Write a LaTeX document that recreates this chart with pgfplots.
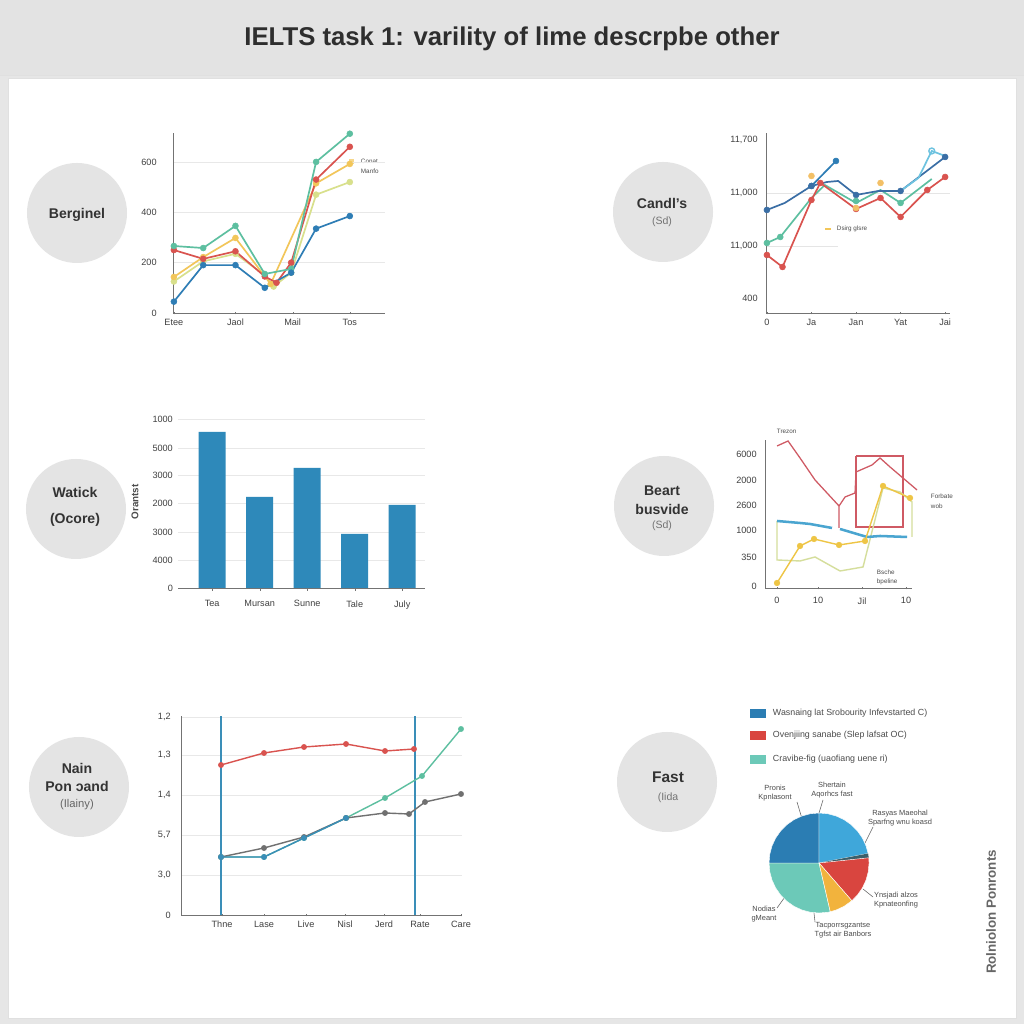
\documentclass[border=0pt]{standalone}
\usepackage{fontspec}
\setmainfont{Liberation Sans}
\usepackage{pgfplots}
\pgfplotsset{compat=1.18}
\usepgfplotslibrary{polar}
\definecolor{bgout}{HTML}{E6E6E6}
\definecolor{banner}{HTML}{E3E3E3}
\definecolor{circ}{HTML}{E4E4E4}
\definecolor{titlec}{HTML}{2E2E2E}
\definecolor{cblue}{HTML}{2E7DB5}
\definecolor{cteal}{HTML}{5DBFA0}
\definecolor{cred}{HTML}{D9534F}
\definecolor{cyel}{HTML}{F2C65A}
\definecolor{clgreen}{HTML}{D8E08C}
\definecolor{cnavy}{HTML}{3A6EA5}
\definecolor{clblue}{HTML}{6EC3E0}
\definecolor{corange}{HTML}{F0B040}
\definecolor{barblue}{HTML}{2E89BA}
\definecolor{dred}{HTML}{CF5A64}
\definecolor{pblue}{HTML}{4AA5D0}
\definecolor{pyel}{HTML}{EEC545}
\definecolor{plgreen}{HTML}{D5DE9C}
\definecolor{cgray}{HTML}{707070}
\definecolor{vblue}{HTML}{3A8EB8}
\definecolor{pieA}{HTML}{2B7DB3}
\definecolor{pieB}{HTML}{3FA7DA}
\definecolor{pieC}{HTML}{3D5F6A}
\definecolor{pieD}{HTML}{D9453F}
\definecolor{pieE}{HTML}{F2B33D}
\definecolor{pieF}{HTML}{6CC9B8}
\newcommand\tk{\fontsize{6.5}{7}\selectfont}
\newcommand\tny{\fontsize{4.5}{5}\selectfont}
\newcommand\pny{\fontsize{5.3}{6}\selectfont}
\newcommand\lgd{\fontsize{6.3}{7}\selectfont}
\pgfplotsset{
  panel/.style={scale only axis, axis x line=bottom, axis y line=left,
    axis line style={-, draw=black!55, line width=0.6pt},
    x tick style={draw=black!55}, y tick style={draw=none},
    major tick length=2pt,
    ticklabel style={font=\tk, text=black!75},
    /pgf/number format/assume math mode=true,
    ymajorgrids, grid style={black!9, line width=0.5pt},
    clip=false, anchor=south west}
}
\begin{document}
\begin{tikzpicture}
\begin{scope}[x=0.25mm,y=0.25mm]
\useasboundingbox (0,0) rectangle (1024,1024);
\fill[bgout] (0,0) rectangle (1024,1024);
\fill[white] (8,6) rectangle (1016,946);
\draw[black!12] (8,6) rectangle (1016,946);
\fill[banner] (0,949) rectangle (1024,1024);
\draw[black!12] (0,949) -- (1024,949);
\node[font=\fontsize{18.3}{21}\selectfont\bfseries, text=titlec] at (512,985) {IELTS task 1: varility of lime descrpbe other};

% circles
\foreach \cx/\cy in {77/811, 663/812, 76/515, 664/518, 79/237, 667/242}
  \fill[circ] (\cx,\cy) circle (12.5mm);
\node[font=\fontsize{10}{12}\selectfont\bfseries, text=black!80] at (77,809) {Berginel};
\node[font=\fontsize{10}{12}\selectfont\bfseries, text=black!80] at (662,821) {Candl's};
\node[font=\fontsize{7.5}{9}\selectfont, text=black!55] at (662,802) {(Sd)};
\node[font=\fontsize{10}{12}\selectfont\bfseries, text=black!80] at (75,532) {Watick};
\node[font=\fontsize{10}{12}\selectfont\bfseries, text=black!80] at (75,504) {(Ocore)};
\node[font=\fontsize{10}{12}\selectfont\bfseries, text=black!80] at (662,533) {Beart};
\node[font=\fontsize{10}{12}\selectfont\bfseries, text=black!80] at (662,515) {busvide};
\node[font=\fontsize{7.5}{9}\selectfont, text=black!55] at (662,498) {(Sd)};
\node[font=\fontsize{10}{12}\selectfont\bfseries, text=black!80] at (77,256) {Nain};
\node[font=\fontsize{10}{12}\selectfont\bfseries, text=black!80] at (77,238) {Pon ɔand};
\node[font=\fontsize{8}{9}\selectfont, text=black!60] at (77,219) {(Ilainy)};
\node[font=\fontsize{11}{12}\selectfont\bfseries, text=black!80] at (668,247) {Fast};
\node[font=\fontsize{7.5}{9}\selectfont, text=black!55] at (668,226) {(Iida};

% small legends / annotations
\fill[cyel!70] (349,860) rectangle (354,865);
\node[font=\tny, anchor=west, text=black!70] at (356,863) {Conat};
\node[font=\tny, anchor=west, text=black!70] at (356,853) {Manfo};
\draw[cyel, line width=0.8pt] (825,795) -- (831,795);
\node[font=\tny, anchor=west, text=black!70] at (832,795) {Dsirg glsre};
\node[font=\tny, anchor=west, text=black!70] at (772,593) {Trezon};
\node[font=\tny, anchor=west, text=black!70] at (926,528) {Forbate};
\node[font=\tny, anchor=west, text=black!70] at (926,518) {wob};
\node[font=\tny, anchor=west, text=black!70] at (872,452) {Bsche};
\node[font=\tny, anchor=west, text=black!70] at (872,442) {bpeline};

% Pie legend
\fill[pieA] (750,306) rectangle (766,315);
\node[font=\lgd, anchor=west, text=black!70] at (768,311) {Wasnaing lat Srobourity Infevstarted C)};
\fill[pieD] (750,284) rectangle (766,293);
\node[font=\lgd, anchor=west, text=black!70] at (768,289) {Ovenjiing sanabe (Slep lafsat OC)};
\fill[pieF] (750,260) rectangle (766,269);
\node[font=\lgd, anchor=west, text=black!70] at (768,265) {Cravibe-fig (uaofiang uene ri)};
% pie labels
\draw[black!60, line width=0.4pt] (797,222) -- (806,192);
\node[font=\pny, align=center, text=black!70] at (775,231) {Pronis\\Kpnlasont};
\draw[black!60, line width=0.4pt] (823,224) -- (819,211);
\node[font=\pny, align=center, text=black!70] at (832,234) {Shertain\\Aqorhcs fast};
\draw[black!60, line width=0.4pt] (873,197) -- (865,181);
\node[font=\pny, align=center, text=black!70] at (900,206) {Rasyas Maeohal\\Sparfng wnu koasd};
\draw[black!60, line width=0.4pt] (863,135) -- (873,127);
\node[font=\pny, align=center, text=black!70] at (896,124) {Ynsjadi alzos\\Kpnateonfing};
\draw[black!60, line width=0.4pt] (814,111) -- (815,102);
\node[font=\pny, align=center, text=black!70] at (843,94) {Tacporrsgzantse\\Tgfst air Banbors};
\draw[black!60, line width=0.4pt] (792,137) -- (777,116);
\node[font=\pny, align=center, text=black!70] at (764,110) {Nodias\\gMeant};
\node[font=\fontsize{9.5}{10}\selectfont\bfseries, text=black!60, rotate=90] at (991,112) {Rolniolon Ponronts};
\end{scope}

% Panel 1
\begin{axis}[panel, at={(43.25mm,177.75mm)}, width=53mm, height=45mm,
  xmin=-0.03, xmax=7.2, ymin=0, ymax=715,
  xtick={0,2.1,4.05,6}, xticklabels={Etee,Jaol,Mail,Tos},
  ytick={0,200,400,600}, yticklabel style={xshift=-2.5mm},
  every axis plot/.append style={line width=1.2pt, mark size=2.1pt, mark options={line width=0.4pt}}]
\addplot[clgreen, mark=*] coordinates {(0,125)(1,205)(2.1,235)(3.1,150)(3.4,105)(4,160)(4.85,470)(6,520)};
\addplot[cyel, mark=*] coordinates {(0,143)(1,222)(2.1,298)(3.3,115)(4.85,515)(6,592)};
\addplot[cred, mark=*] coordinates {(0,250)(1,215)(2.1,245)(3.1,145)(3.5,120)(4,200)(4.85,530)(6,660)};
\addplot[cteal, mark=*] coordinates {(0,266)(1,258)(2.1,346)(3.1,155)(4,175)(4.85,600)(6,712)};
\addplot[cblue, mark=*] coordinates {(0,45)(1,190)(2.1,190)(3.1,100)(4,160)(4.85,335)(6,385)};
\end{axis}

% Panel 2
\begin{axis}[panel, at={(191.5mm,177.75mm)}, width=46mm, height=45mm,
  xmin=-0.02, xmax=4.11, ymin=0, ymax=180,
  xtick={0,1,2,3,4}, xticklabels={0,Ja,Jan,Yat,Jai},
  ytick={15,67,120,173}, yticklabels={400,{11,000},{11,000},{11,700}},
  yticklabel style={xshift=-0.5mm}, ymajorgrids=false,
  every axis plot/.append style={line width=1.2pt, mark size=2.1pt, mark options={line width=0.4pt}}]
\addplot[black!10, line width=0.6pt] coordinates {(0,120)(4.1,120)};
\addplot[black!10, line width=0.6pt] coordinates {(0,67)(1.6,67)};
\addplot[cteal, mark=none] coordinates {(0,70)(0.3,76)(1,115)(1.3,128)(2,110)(2.55,123)(3,110)(3.7,134)};
\addplot[cred, mark=*] coordinates {(0,58)(0.35,46)(1,113)(1.2,130)(2,104)(2.55,115)(3,96)(3.6,123)(4,136)};
\addplot[cnavy, mark=none] coordinates {(0,103)(0.4,110)(1,127)(1.35,131)(1.6,132)(2,118)(2.5,122)(3,122)(4,156)};
\addplot[clblue, mark=none] coordinates {(3,122)(3.4,135)(3.7,162)(4,157)};
\addplot[cblue, mark=*] coordinates {(1,127)(1.55,152)};
\addplot[cnavy, only marks, mark=*] coordinates {(0,103)(1,127)(2,118)(3,122)(4,156)};
\addplot[corange!80, only marks, mark=*] coordinates {(1,137)(2,105)(2.55,130)};
\addplot[cteal, only marks, mark=*] coordinates {(0,70)(0.3,76)(2,112)(3,110)};
\addplot[clblue, only marks, mark=o, mark options={line width=1pt}] coordinates {(3.7,162)};
\end{axis}

% Panel 3
\begin{axis}[panel, at={(44.5mm,109mm)}, width=61.75mm, height=43mm,
  xmin=-0.72, xmax=4.48, ymin=0, ymax=172,
  ybar, bar width=6.75mm,
  y axis line style={draw=none},
  xtick={0,1,2,3,4}, xticklabels={Tea,Mursan,Sunne,Tale,July},
  xticklabel style={yshift=-1.2mm},
  ytick={0,28,56,85,113,140,169}, yticklabels={0,4000,3000,2000,3000,5000,1000},
  yticklabel style={xshift=0.3mm},
  ylabel={Orantst}, ylabel style={font=\fontsize{7}{8}\selectfont\bfseries, text=black!70, at={(axis description cs:-0.14,0.5)}}]
\addplot[fill=barblue, draw=none] coordinates {(0,156)(1,91)(2,120)(3,54)(4,83)};
\end{axis}

% Panel 4
\begin{axis}[panel, at={(191.25mm,109mm)}, width=36.75mm, height=37mm,
  xmin=765, xmax=912, ymin=0, ymax=148,
  xtick={777,818,862,906}, xticklabels={0,10,Jil,10},
  xticklabel style={yshift=-0.8mm},
  ytick={2,31,58,83,108,134}, yticklabels={0,350,1000,2600,2000,6000},
  yticklabel style={xshift=-0.5mm}, ymajorgrids=false]
\addplot[dred, line width=0.9pt] coordinates {(777,142)(788,147)(800,130)(815,108)(839,82)(839,60)};
\addplot[dred, line width=0.9pt] coordinates {(839,82)(845,91)(855,95)(856,116)(872,123)(880,130)(890,121)(917,98)};
\addplot[dred, line width=0.9pt] coordinates {(856,132)(903,132)(903,61)(856,61)(856,132)};
\addplot[plgreen, line width=1pt] coordinates {(777,67)(777,28)(800,27)(815,31)(840,17)(863,21)(883,100)(900,96)(912,86)(912,51)};
\addplot[pblue, line width=1.8pt] coordinates {(777,67)(800,65)(810,64)(832,60)};
\addplot[pblue, line width=1.8pt] coordinates {(840,59)(867,51)(880,52)(907,51)};
\addplot[pyel, line width=1pt, mark=*, mark size=2pt, mark options={line width=0.4pt}] coordinates {(777,5)(800,42)(814,49)(839,43)(865,47)(883,102)(910,90)};
\end{axis}

% Panel 5
\begin{axis}[panel, at={(45.25mm,27.25mm)}, width=70.25mm, height=49.75mm,
  xmin=181, xmax=462, ymin=0, ymax=199,
  xtick={222,264,306,345,384,420,461}, xticklabels={Thne,Lase,Live,Nisl,Jerd,Rate,Care},
  ytick={0,40,80,120,160,198}, yticklabels={0,{3,0},{5,7},{1,4},{1,3},{1,2}},
  yticklabel style={xshift=-1mm},
  every axis plot/.append style={line width=1pt, mark size=1.9pt, mark options={line width=0.3pt}}]
\addplot[vblue, line width=1pt] coordinates {(221,0)(221,199)};
\addplot[vblue, line width=1pt] coordinates {(415,0)(415,199)};
\addplot[cred, mark=*] coordinates {(221,150)(264,162)(304,168)(346,171)(385,164)(414,166)};
\addplot[cteal, mark=*] coordinates {(221,58)(264,58)(304,77)(346,97)(385,117)(422,139)(461,186)};
\addplot[cgray, mark=*] coordinates {(221,58)(264,67)(304,78)(346,97)(385,102)(409,101)(425,113)(461,121)};
\addplot[vblue, mark=*] coordinates {(221,58)(264,58)(304,77)(346,97)};
\end{axis}

% Pie
\begin{polaraxis}[hide axis, scale only axis, width=25mm, height=25mm,
  ymin=0, ymax=1, at={(204.75mm,40.25mm)}, anchor=center, clip=false]
\addplot[fill=pieF, draw=white, line width=0.3pt] coordinates {(0,0)(180,1)(190,1)(200,1)(210,1)(220,1)(230,1)(240,1)(250,1)(260,1)(270,1)(280,1)(283,1)(0,0)};
\addplot[fill=pieA, draw=white, line width=0.3pt] coordinates {(0,0)(90,1)(100,1)(110,1)(120,1)(130,1)(140,1)(150,1)(160,1)(170,1)(180,1)(0,0)};
\addplot[fill=pieB, draw=white, line width=0.3pt] coordinates {(0,0)(11,1)(20,1)(30,1)(40,1)(50,1)(60,1)(70,1)(80,1)(90,1)(0,0)};
\addplot[fill=pieC, draw=none] coordinates {(0,0)(6,1)(11,1)(0,0)};
\addplot[fill=pieD, draw=white, line width=0.3pt] coordinates {(0,0)(-49,1)(-40,1)(-30,1)(-20,1)(-10,1)(0,1)(6,1)(0,0)};
\addplot[fill=pieE, draw=white, line width=0.3pt] coordinates {(0,0)(-77,1)(-70,1)(-60,1)(-49,1)(0,0)};
\end{polaraxis}
\end{tikzpicture}
\end{document}
